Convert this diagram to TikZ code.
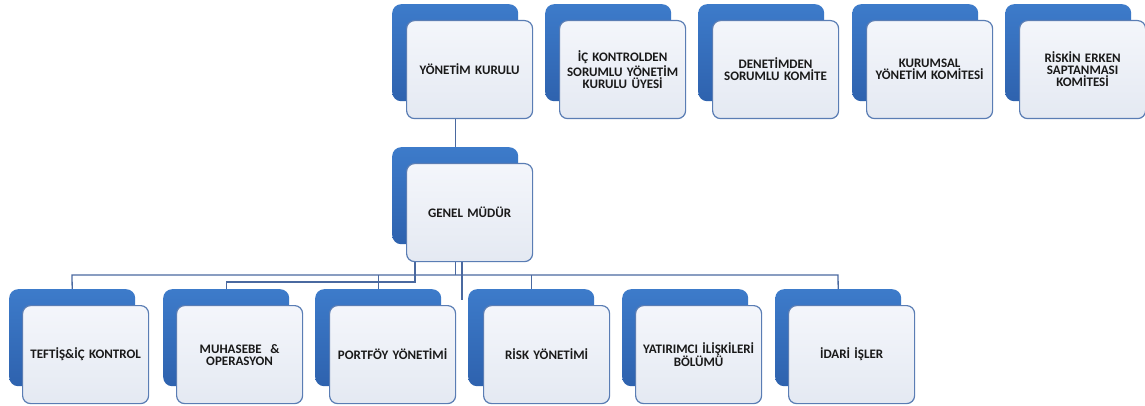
\documentclass[tikz,border=0pt]{standalone}
\usepackage{fontspec}
\setmainfont{Carlito}
\definecolor{backtop}{HTML}{3D7BCA}
\definecolor{backbot}{HTML}{2E62AE}
\definecolor{frontedge}{HTML}{5A7DB4}
\definecolor{fronttop}{HTML}{F4F6FB}
\definecolor{frontbot}{HTML}{E4E9F2}
\definecolor{linec}{HTML}{4A69A0}
\tikzset{
  backbox/.style={anchor=north west, rounded corners=9pt, top color=backtop, bottom color=backbot,
    minimum width=126pt, minimum height=97pt, inner sep=0pt},
  frontbox/.style={anchor=north west, rounded corners=8pt, draw=frontedge, line width=1.2pt,
    top color=fronttop, bottom color=frontbot, minimum width=126pt, minimum height=98pt,
    inner sep=0pt, text width=124pt, align=center, text=black!90,
    font=\bfseries\fontsize{13}{12}\selectfont},
  conn/.style={draw=linec, line width=1.3pt}
}
\begin{document}
\begin{tikzpicture}[x=1pt,y=-1pt]
\useasboundingbox[fill=white] (0,0) rectangle (1145,406);
% back boxes
\node[backbox] (ykb) at (392,4) {};
\node[backbox] (ikb) at (545,4) {};
\node[backbox] (dkb) at (698,4) {};
\node[backbox] (kkb) at (852,4) {};
\node[backbox] (rkb) at (1005,4) {};
\node[backbox] (gmb) at (392,147) {};
\node[backbox] (tfb) at (9,289) {};
\node[backbox] (mhb) at (163,289) {};
\node[backbox] (pfb) at (315,289) {};
\node[backbox] (ryb) at (468,289) {};
\node[backbox] (yib) at (622,289) {};
\node[backbox] (idb) at (775,289) {};
% connectors
\coordinate (busL) at (72,275);
\coordinate (busR) at (838,275);
\coordinate (muhY) at (415,282);
\coordinate (extra) at (462,300);
\draw[conn] (ykb.south) -- (gmb.north);
\draw[conn] (gmb.south) -- (gmb.south |- busL);
\draw[conn] (tfb.north) -- (busL) -- (busR) -- (idb.north);
\draw[conn] (pfb.north |- busL) -- (pfb.north);
\draw[conn] (ryb.north |- busL) -- (ryb.north);
\draw[conn] (muhY |- gmb.south) -- (muhY) -- (muhY -| mhb.north) -- (mhb.north);
\draw[conn] (extra |- gmb.south) -- (extra);
% front boxes
\node[frontbox] (yk) at (406,20) {YÖNETİM KURULU};
\node[frontbox] (ik) at (559,20) {İÇ KONTROLDEN\\SORUMLU YÖNETİM\\KURULU ÜYESİ};
\node[frontbox] (dk) at (712,20) {DENETİMDEN\\SORUMLU KOMİTE};
\node[frontbox] (kk) at (866,20) {KURUMSAL\\YÖNETİM KOMİTESİ};
\node[frontbox] (rk) at (1019,20) {RİSKİN ERKEN\\SAPTANMASI\\KOMİTESİ};
\node[frontbox] (gm) at (406,163) {GENEL MÜDÜR};
\node[frontbox] (tf) at (22,305) {TEFTİŞ\&İÇ KONTROL};
\node[frontbox] (mh) at (176,305) {MUHASEBE~ \&\\OPERASYON};
\node[frontbox] (pf) at (329,305) {PORTFÖY YÖNETİMİ};
\node[frontbox] (ry) at (483,305) {RİSK YÖNETİMİ};
\node[frontbox] (yi) at (635,305) {YATIRIMCI İLİŞKİLERİ\\BÖLÜMÜ};
\node[frontbox] (id) at (788,305) {İDARİ İŞLER};
\end{tikzpicture}
\end{document}
